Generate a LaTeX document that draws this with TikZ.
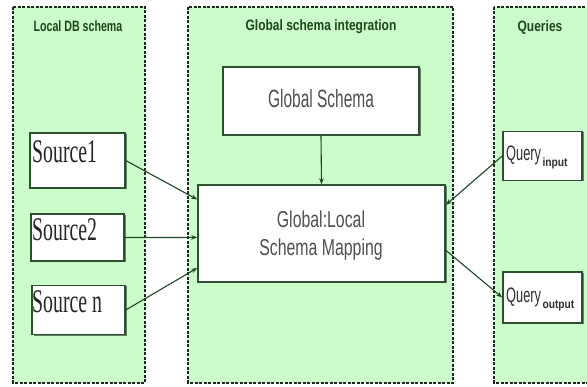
\documentclass[tikz,border=0pt]{standalone}
\usepackage{fontspec}
\setmainfont{Liberation Serif}
\newfontfamily\arialf{Liberation Sans}
\usetikzlibrary{arrows.meta,calc}
\definecolor{panelfill}{RGB}{204,252,204}
\definecolor{paneldraw}{RGB}{30,40,30}
\definecolor{boxdraw}{RGB}{45,80,48}
\definecolor{titlecol}{RGB}{30,70,30}
\definecolor{arrowcol}{RGB}{30,70,40}
\definecolor{graytext}{RGB}{80,80,80}
\newcommand{\titletxt}[2]{\scalebox{#1}[1]{\arialf\bfseries\fontsize{15}{15}\selectfont #2}}
\newcommand{\srctxt}[1]{\scalebox{0.6}[1]{\fontsize{33}{33}\selectfont #1}}
\newcommand{\qtxt}[1]{\scalebox{0.61}[1]{\arialf\fontsize{21}{21}\selectfont Query}\hspace{1.5pt}\raisebox{-6pt}{\scalebox{0.85}[1]{\arialf\bfseries\fontsize{12}{12}\selectfont #1}}}
\begin{document}
\begin{tikzpicture}[x=1pt,y=-1pt,
  panel/.style={fill=panelfill,draw=paneldraw,line width=1.9pt,dash pattern=on 3pt off 1.5pt},
  whitebox/.style={draw=boxdraw,fill=white,line width=1.5pt,rectangle,inner sep=0pt},
  conn/.style={draw=arrowcol,line width=1.1pt,-{Stealth[length=6pt,width=4.5pt]}}]
\clip (0,0) rectangle (587,387);
\fill[white] (0,0) rectangle (587,387);
% panels
\draw[panel] (13,7) rectangle (145,383);
\draw[panel] (188,7) rectangle (453,383);
\draw[panel] (494,7) rectangle (600,383);
% titles
\node[anchor=base,text=titlecol,inner sep=0pt] (t1) at (78,32) {\titletxt{0.71}{Local DB schema}};
\node[anchor=base,text=titlecol,inner sep=0pt] (t2) at (321,31) {\titletxt{0.8}{Global schema integration}};
\node[anchor=base,text=titlecol,inner sep=0pt] (t3) at (540,32) {\titletxt{0.8}{Queries}};
% shadows
\fill[boxdraw!60!black,opacity=0.6] (224.5,68.5) rectangle (420.5,136.5);
\fill[boxdraw!60!black,opacity=0.6] (199.5,186.5) rectangle (446.5,283.5);
\fill[boxdraw!60!black,opacity=0.6] (31.5,134.5) rectangle (126.5,189.5);
\fill[boxdraw!60!black,opacity=0.6] (32.5,215.5) rectangle (125.5,262.5);
\fill[boxdraw!60!black,opacity=0.6] (33.5,286.5) rectangle (126.5,336.5);
\fill[boxdraw!60!black,opacity=0.6] (504.5,132.5) rectangle (583.5,181.5);
\fill[boxdraw!60!black,opacity=0.6] (504.5,273.5) rectangle (583.5,324.5);
% boxes
\node[whitebox,minimum width=196pt,minimum height=68pt] (gs) at (321,101) {};
\node[anchor=base,text=graytext,inner sep=0pt] (gst) at (321,108) {\scalebox{0.62}[1]{\arialf\fontsize{25}{25}\selectfont Global Schema}};
\node[whitebox,minimum width=247pt,minimum height=97pt] (map) at (321.5,233.5) {};
\node[anchor=base,text=graytext,inner sep=0pt] (mapa) at (321,228) {\scalebox{0.69}[1]{\arialf\fontsize{23}{23}\selectfont Global:Local}};
\node[anchor=base,text=graytext,inner sep=0pt] (mapb) at (321,256) {\scalebox{0.69}[1]{\arialf\fontsize{23}{23}\selectfont Schema Mapping}};
\node[whitebox,minimum width=95pt,minimum height=55pt] (s1) at (77.5,160.5) {};
\node[whitebox,minimum width=93pt,minimum height=47pt] (s2) at (77.5,237.5) {};
\node[whitebox,minimum width=93pt,minimum height=49pt] (sn) at (78.5,310) {};
\node[anchor=base west,inner sep=0pt,text=black!85] (s1t) at (32,163) {\srctxt{Source1}};
\node[anchor=base west,inner sep=0pt,text=black!85] (s2t) at (32,241) {\srctxt{Source2}};
\node[anchor=base west,inner sep=0pt,text=black!85] (snt) at (32,313) {\srctxt{Source n}};
\node[whitebox,minimum width=79pt,minimum height=49pt] (qin) at (542.5,156) {};
\node[whitebox,minimum width=79pt,minimum height=51pt] (qout) at (542.5,297.5) {};
\node[anchor=base west,inner sep=0pt,text=graytext!60!black] (qint) at (506,161) {\qtxt{input}};
\node[anchor=base west,inner sep=0pt,text=graytext!60!black] (qoutt) at (506,303) {\qtxt{output}};
% connectors
\draw[conn] (s1.east) -- ($(map.north west)!0.155!(map.south west)$);
\draw[conn] (s2.east) -- ($(map.north west)!0.54!(map.south west)$);
\draw[conn] (sn.east) -- ($(map.north west)!0.85!(map.south west)$);
\draw[conn] (gs.south) -- (map.north);
\draw[conn] (qin.west) -- ($(map.north east)!0.21!(map.south east)$);
\draw[conn] ($(map.north east)!0.67!(map.south east)$) -- (qout.west);
\end{tikzpicture}
\end{document}
